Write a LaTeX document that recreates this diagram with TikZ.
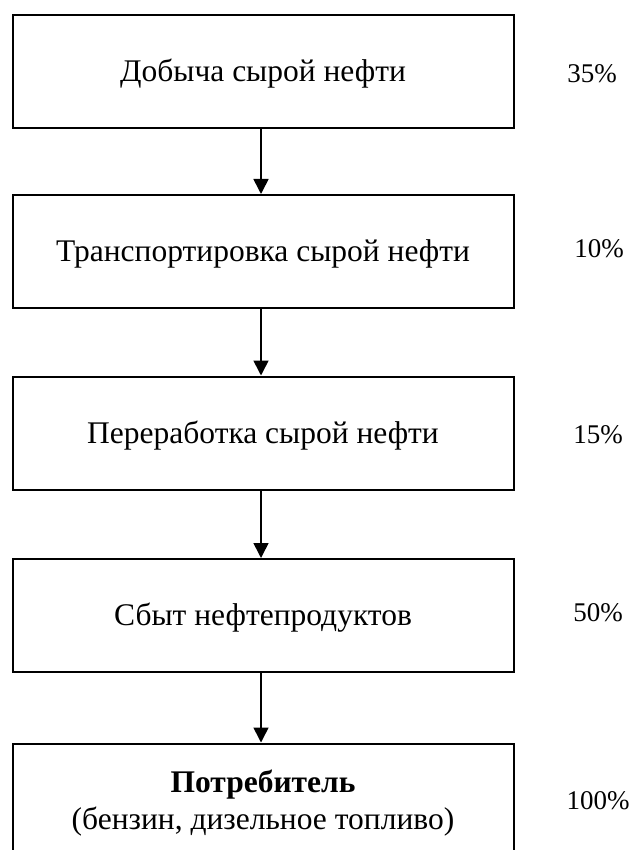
\documentclass[tikz,border=0pt]{standalone}
\usepackage{fontspec}
\setmainfont{Liberation Serif}
\usetikzlibrary{arrows.meta}
\begin{document}
\begin{tikzpicture}[x=1pt,y=-1pt,
  stage/.style={draw=black,line width=2pt,minimum width=501pt,minimum height=113pt,
    inner sep=0pt,align=center,font=\fontsize{31.5}{37}\selectfont,
    text height=25pt,text depth=4.6pt},
  share/.style={inner sep=0pt,font=\fontsize{27}{32}\selectfont},
  flow/.style={line width=1.6pt,-{Triangle[width=15pt,length=15pt]}}]
\useasboundingbox (0,0) rectangle (633,850);
% chain of stages
\node[stage] (b1) at (263,71.5) {Добыча сырой нефти};
\node[stage] (b2) at (263,251.5) {Транспортировка сырой нефти};
\node[stage] (b3) at (263,433) {Переработка сырой нефти};
\node[stage] (b4) at (263,615.5) {Сбыт нефтепродуктов};
\node[stage,text height=,text depth=0pt] (b5) at (263,800)
  {\textbf{Потребитель}\\(бензин, дизельное топливо)};
% shares
\node[share] (p1) at (592,74) {35\%};
\node[share] (p2) at (599,249) {10\%};
\node[share] (p3) at (598,435) {15\%};
\node[share] (p4) at (598,613) {50\%};
\node[share] (p5) at (598,801) {100\%};
% arrows between stages
\foreach \a/\b in {b1/b2,b2/b3,b3/b4,b4/b5}
  \draw[flow] ([xshift=-2pt]\a.south) -- ([xshift=-2pt]\b.north);
\end{tikzpicture}
\end{document}
